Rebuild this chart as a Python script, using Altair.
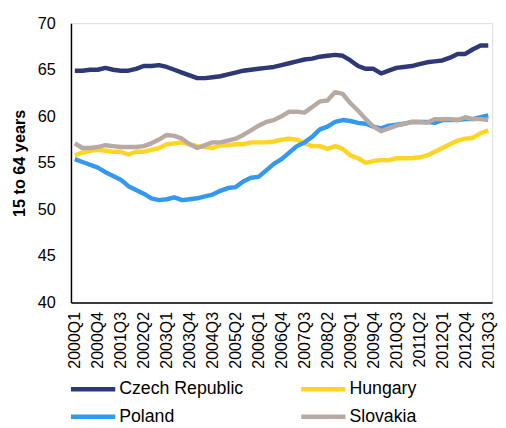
import altair as alt
import pandas as pd

quarters = [f"{y}Q{q}" for y in range(2000, 2014) for q in range(1, 5)][:55]
tick_labels = ["2000Q1", "2000Q4", "2001Q3", "2002Q2", "2003Q1", "2003Q4", "2004Q3",
               "2005Q2", "2006Q1", "2006Q4", "2007Q3", "2008Q2", "2009Q1", "2009Q4",
               "2010Q3", "2011Q2", "2012Q1", "2012Q4", "2013Q3"]
y_ticks = [40, 45, 50, 55, 60, 65, 70]

countries = ["Czech Republic", "Hungary", "Poland", "Slovakia"]
colors = ["#2e3876", "#ffd524", "#3399f0", "#b8aaa2"]

czech = [64.9, 64.9, 65.0, 65.0, 65.2, 65.0, 64.9, 64.9, 65.1, 65.4,
         65.4, 65.5, 65.3, 65.0, 64.7, 64.4, 64.1, 64.1, 64.2, 64.3,
         64.5, 64.7, 64.9, 65.0, 65.1, 65.2, 65.3, 65.5, 65.7, 65.9,
         66.1, 66.2, 66.4, 66.5, 66.6, 66.5, 66.0, 65.4, 65.1, 65.1,
         64.6, 64.9, 65.2, 65.3, 65.4, 65.6, 65.8, 65.9, 66.0, 66.3,
         66.7, 66.7, 67.2, 67.6, 67.6]
hungary = [55.8, 56.1, 56.3, 56.4, 56.3, 56.2, 56.2, 55.9, 56.2, 56.2,
           56.4, 56.6, 57.0, 57.1, 57.2, 57.0, 56.8, 56.7, 56.6, 56.9,
           56.9, 57.0, 57.0, 57.2, 57.2, 57.2, 57.3, 57.5, 57.6, 57.5,
           57.1, 56.8, 56.8, 56.5, 56.8, 56.5, 55.8, 55.5, 55.0, 55.2,
           55.3, 55.3, 55.5, 55.5, 55.5, 55.6, 55.8, 56.2, 56.6, 57.0,
           57.4, 57.6, 57.7, 58.2, 58.5]
poland = [55.4, 55.1, 54.8, 54.5, 54.0, 53.6, 53.2, 52.5, 52.1, 51.7,
          51.2, 51.0, 51.1, 51.3, 51.0, 51.1, 51.2, 51.4, 51.6, 52.0,
          52.3, 52.4, 53.0, 53.4, 53.5, 54.2, 54.9, 55.4, 56.1, 56.8,
          57.2, 57.8, 58.6, 58.9, 59.4, 59.6, 59.5, 59.3, 59.2, 58.9,
          58.7, 59.0, 59.1, 59.2, 59.4, 59.4, 59.4, 59.3, 59.6, 59.6,
          59.6, 59.7, 59.7, 59.9, 60.1]
slovakia = [57.1, 56.6, 56.6, 56.7, 56.9, 56.8, 56.7, 56.7, 56.7, 56.8,
            57.1, 57.5, 58.0, 57.9, 57.6, 57.0, 56.6, 56.9, 57.2, 57.2,
            57.4, 57.6, 58.0, 58.5, 59.0, 59.4, 59.6, 60.0, 60.5, 60.5,
            60.4, 61.0, 61.6, 61.7, 62.6, 62.4, 61.4, 60.6, 59.7, 58.9,
            58.4, 58.7, 59.0, 59.2, 59.4, 59.4, 59.3, 59.7, 59.7, 59.7,
            59.6, 59.9, 59.7, 59.7, 59.6]

series = dict(zip(countries, [czech, hungary, poland, slovakia]))
rows = []
for name, vals in series.items():
    for q, v in zip(quarters, vals):
        rows.append({"quarter": q, "country": name, "value": v})
df = pd.DataFrame(rows)

FONT = "Liberation Sans"
LW = 4.5

lines = alt.Chart(df).mark_line(strokeWidth=LW, strokeJoin="round").encode(
    x=alt.X("quarter:N", sort=quarters,
            scale=alt.Scale(type="point", padding=0.5),
            axis=alt.Axis(values=tick_labels, labelAngle=270, ticks=False, grid=False,
                          domainColor="black", domainWidth=1.5, labelColor="black",
                          labelFont=FONT, labelFontSize=16.2, labelPadding=9,
                          title=None)),
    y=alt.Y("value:Q",
            scale=alt.Scale(domain=[40, 70], nice=False, zero=False),
            axis=alt.Axis(values=y_ticks, ticks=False, grid=False,
                          domainColor="black", domainWidth=1.5, labelColor="black",
                          labelFont=FONT, labelFontSize=16.5, labelPadding=16,
                          title="15 to 64 years", titleFont=FONT, titleFontSize=16.5,
                          titleFontWeight="bold", titleColor="black", titlePadding=10)),
    color=alt.Color("country:N", sort=countries,
                    scale=alt.Scale(domain=countries, range=colors),
                    legend=None),
)

# manual two-column legend below the axis labels
leg_layers = []
col_x = [0, 234]
row_y = [372, 400]
for i, (name, col) in enumerate(zip(countries, colors)):
    cx = col_x[i % 2]
    ry = row_y[i // 2]
    ldf = pd.DataFrame({"country": [name]})
    sym = alt.Chart(ldf).mark_rule(color=col, strokeWidth=LW).encode(
        x=alt.value(cx), x2=alt.value(cx + 45), y=alt.value(ry))
    lab = alt.Chart(ldf).mark_text(align="left", baseline="middle", font=FONT,
                                   fontSize=18, color="black").encode(
        x=alt.value(cx + 49), y=alt.value(ry), text="country:N")
    leg_layers += [sym, lab]

chart = alt.layer(lines, *leg_layers).properties(
    width=428, height=284,
    autosize=alt.AutoSizeParams(type="none"),
    padding={"left": 64, "top": 12, "right": 6, "bottom": 124},
).configure_view(stroke=None).configure(background="white")

chart.save("out.html", embed_options={"renderer": "svg", "actions": False})
